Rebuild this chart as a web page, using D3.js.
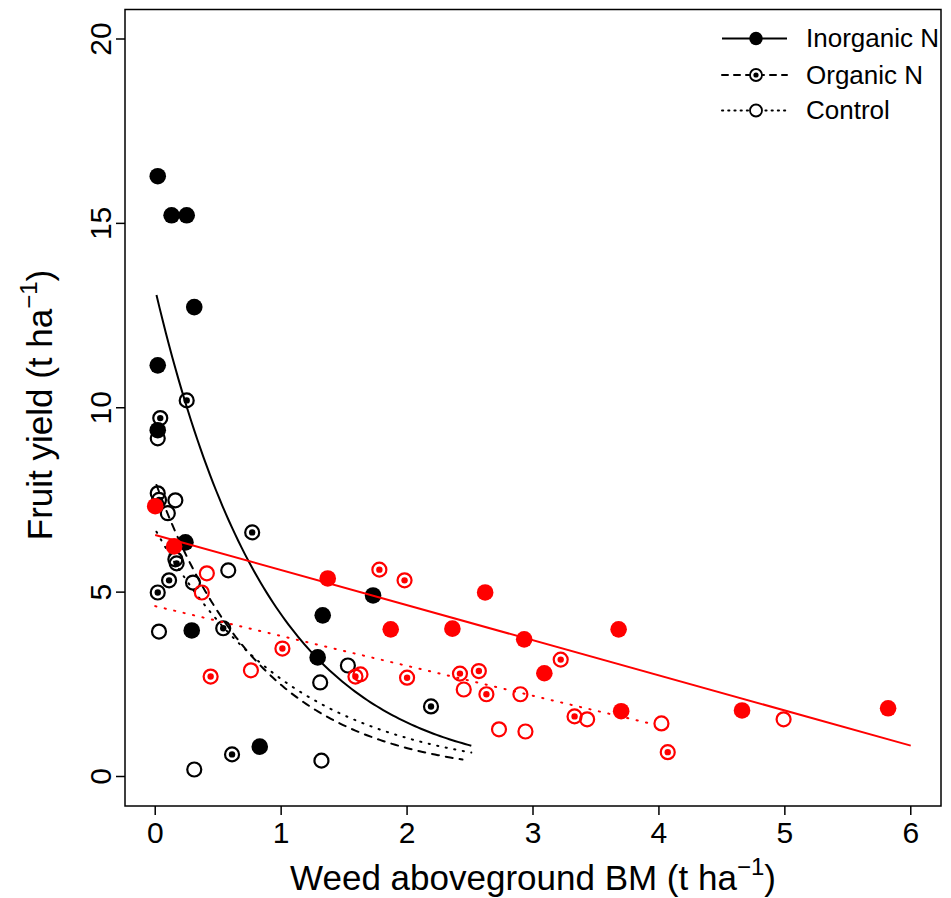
<!DOCTYPE html>
<html>
<head>
<meta charset="utf-8">
<script src="https://cdn.jsdelivr.net/npm/d3@7"></script>
<style>
  body { margin: 0; background: #fff; }
  text { font-family: "Liberation Sans", Arial, Helvetica, sans-serif; fill: #000; }
</style>
</head>
<body>
<script>
const w = 951
const h = 898

// points: [weed BM, fruit yield]
const inorganicBlack = [[0.02,16.28],[0.13,15.22],[0.25,15.22],[0.31,12.73],[0.02,11.15],[0.02,9.39],
  [0.24,6.35],[0.29,3.96],[0.83,0.81],[1.29,3.23],[1.33,4.37],[1.73,4.91]]
const organicBlack = [[0.25,10.2],[0.04,9.72],[0.03,7.5],[0.77,6.62],[0.17,5.78],[0.11,5.32],[0.02,4.99],
  [0.54,4.02],[0.61,0.6],[2.19,1.9]]
const controlBlack = [[0.02,9.17],[0.02,7.68],[0.16,7.49],[0.10,7.14],[0.16,5.89],[0.30,5.26],[0.58,5.59],
  [0.03,3.93],[0.31,0.19],[1.32,0.43],[1.31,2.55],[1.53,3.01]]
const inorganicRed = [[0.0,7.33],[0.15,6.24],[1.37,5.37],[1.87,3.99],[2.36,4.01],[2.62,4.99],[2.93,3.72],
  [3.09,2.8],[3.68,3.99],[3.7,1.77],[4.66,1.79],[5.82,1.85]]
const organicRed = [[0.44,2.71],[1.01,3.47],[1.78,5.61],[1.98,5.32],[1.59,2.71],[2.0,2.68],[2.42,2.79],
  [2.57,2.86],[2.63,2.23],[3.22,3.17],[3.33,1.63],[4.07,0.66]]
const controlRed = [[0.41,5.51],[0.37,4.99],[0.76,2.88],[1.63,2.77],[2.45,2.36],[2.73,1.28],[2.94,1.22],
  [2.9,2.23],[3.43,1.55],[4.02,1.44],[4.99,1.55]]

// fitted curves y = a * exp(-b x) (black) and straight lines (red)
const expFits = [
  { a: 13.2, b: 1.10, from: 0.01, to: 2.51, dash: null },
  { a: 8.0, b: 1.17, from: 0.01, to: 2.44, dash: '7,7' },
  { a: 6.7, b: 0.93, from: 0.01, to: 2.51, dash: '1.2,7.5' }
]
const linFits = [
  { a: 6.55, b: -0.952, from: 0, to: 6, dash: null },
  { a: 4.62, b: -0.81, from: 0, to: 3.95, dash: '1.2,8.5' }
]

const xTicks = [0, 1, 2, 3, 4, 5, 6]
const yTicks = [0, 5, 10, 15, 20]
const legendNames = ['Inorganic N', 'Organic N', 'Control']

const x = d3.scaleLinear().domain([-0.24, 6.24]).range([125, 941])
const y = d3.scaleLinear().domain([-0.8, 20.8]).range([806, 9.5])

const svg = d3.select('body').append('svg').attr('width', w).attr('height', h)

const line = d3.line().x(d => x(d[0])).y(d => y(d[1]))

// black curves
expFits.forEach(f => {
  const pts = d3.range(0, 101).map(i => {
    const xv = f.from + (f.to - f.from) * i / 100
    return [xv, f.a * Math.exp(-f.b * xv)]
  })
  svg.append('path').attr('d', line(pts)).attr('fill', 'none').attr('stroke', '#000')
    .attr('stroke-width', 2).attr('stroke-dasharray', f.dash).attr('stroke-linecap', f.dash ? 'round' : 'butt')
})

function drawPoints(data, kind, color) {
  const g = svg.append('g')
  data.forEach(d => {
    if (kind === 'filled') {
      g.append('circle').attr('cx', x(d[0])).attr('cy', y(d[1])).attr('r', 8.3).attr('fill', color)
    } else {
      g.append('circle').attr('cx', x(d[0])).attr('cy', y(d[1])).attr('r', 7)
        .attr('fill', 'none').attr('stroke', color).attr('stroke-width', 2.2)
      if (kind === 'dot') {
        g.append('circle').attr('cx', x(d[0])).attr('cy', y(d[1])).attr('r', 3.2).attr('fill', color)
      }
    }
  })
}

drawPoints(controlBlack, 'open', '#000')
drawPoints(organicBlack, 'dot', '#000')
drawPoints(inorganicBlack, 'filled', '#000')

// red lines
linFits.forEach(f => {
  svg.append('path').attr('d', line([[f.from, f.a + f.b * f.from], [f.to, f.a + f.b * f.to]]))
    .attr('fill', 'none').attr('stroke', '#ff0000').attr('stroke-width', 2)
    .attr('stroke-dasharray', f.dash).attr('stroke-linecap', f.dash ? 'round' : 'butt')
})

drawPoints(controlRed, 'open', '#ff0000')
drawPoints(organicRed, 'dot', '#ff0000')
drawPoints(inorganicRed, 'filled', '#ff0000')

// frame
svg.append('rect').attr('x', 125).attr('y', 9.5).attr('width', 816).attr('height', 796.5)
  .attr('fill', 'none').attr('stroke', '#000').attr('stroke-width', 1.5)

// x axis
const xAxis = svg.append('g')
xAxis.selectAll('line').data(xTicks).enter().append('line')
  .attr('x1', d => x(d)).attr('x2', d => x(d)).attr('y1', 806).attr('y2', 815)
  .attr('stroke', '#000').attr('stroke-width', 1.5)
xAxis.selectAll('text').data(xTicks).enter().append('text')
  .attr('x', d => x(d)).attr('y', 843).attr('text-anchor', 'middle')
  .style('font-size', '30px').text(d => d)

// y axis
const yAxis = svg.append('g')
yAxis.selectAll('line').data(yTicks).enter().append('line')
  .attr('x1', 116).attr('x2', 125).attr('y1', d => y(d)).attr('y2', d => y(d))
  .attr('stroke', '#000').attr('stroke-width', 1.5)
yAxis.selectAll('text').data(yTicks).enter().append('text')
  .attr('transform', d => 'translate(111,' + y(d) + ') rotate(-90)').attr('text-anchor', 'middle')
  .style('font-size', '30px').text(d => d)

// axis titles
const xt = svg.append('text').attr('x', 533).attr('y', 890).attr('text-anchor', 'middle').style('font-size', '35px')
xt.append('tspan').text('Weed aboveground BM (t ha')
xt.append('tspan').attr('dy', -15).style('font-size', '24px').text('\u22121')
xt.append('tspan').attr('dy', 15).text(')')

const yt = svg.append('text').attr('transform', 'translate(52,405) rotate(-90)')
  .attr('text-anchor', 'middle').style('font-size', '35px')
yt.append('tspan').text('Fruit yield (t ha')
yt.append('tspan').attr('dy', -15).style('font-size', '24px').text('\u22121')
yt.append('tspan').attr('dy', 15).text(')')

// legend
const legY = [38.5, 75, 110.5]
const legDash = [null, '6,6', '1.2,5']
const legKind = ['filled', 'dot', 'open']
legendNames.forEach((name, i) => {
  svg.append('line').attr('x1', 722).attr('x2', 787).attr('y1', legY[i]).attr('y2', legY[i])
    .attr('stroke', '#000').attr('stroke-width', 2).attr('stroke-dasharray', legDash[i])
    .attr('stroke-linecap', legDash[i] ? 'round' : 'butt')
  if (legKind[i] === 'filled') {
    svg.append('circle').attr('cx', 756).attr('cy', legY[i]).attr('r', 6.7).attr('fill', '#000')
  } else {
    svg.append('circle').attr('cx', 756).attr('cy', legY[i]).attr('r', 6).attr('fill', '#fff')
      .attr('stroke', '#000').attr('stroke-width', 1.8)
    if (legKind[i] === 'dot') {
      svg.append('circle').attr('cx', 756).attr('cy', legY[i]).attr('r', 2.6).attr('fill', '#000')
    }
  }
  svg.append('text').attr('x', 806).attr('y', legY[i] + 8.5).style('font-size', '26px').text(name)
})
</script>
</body>
</html>
